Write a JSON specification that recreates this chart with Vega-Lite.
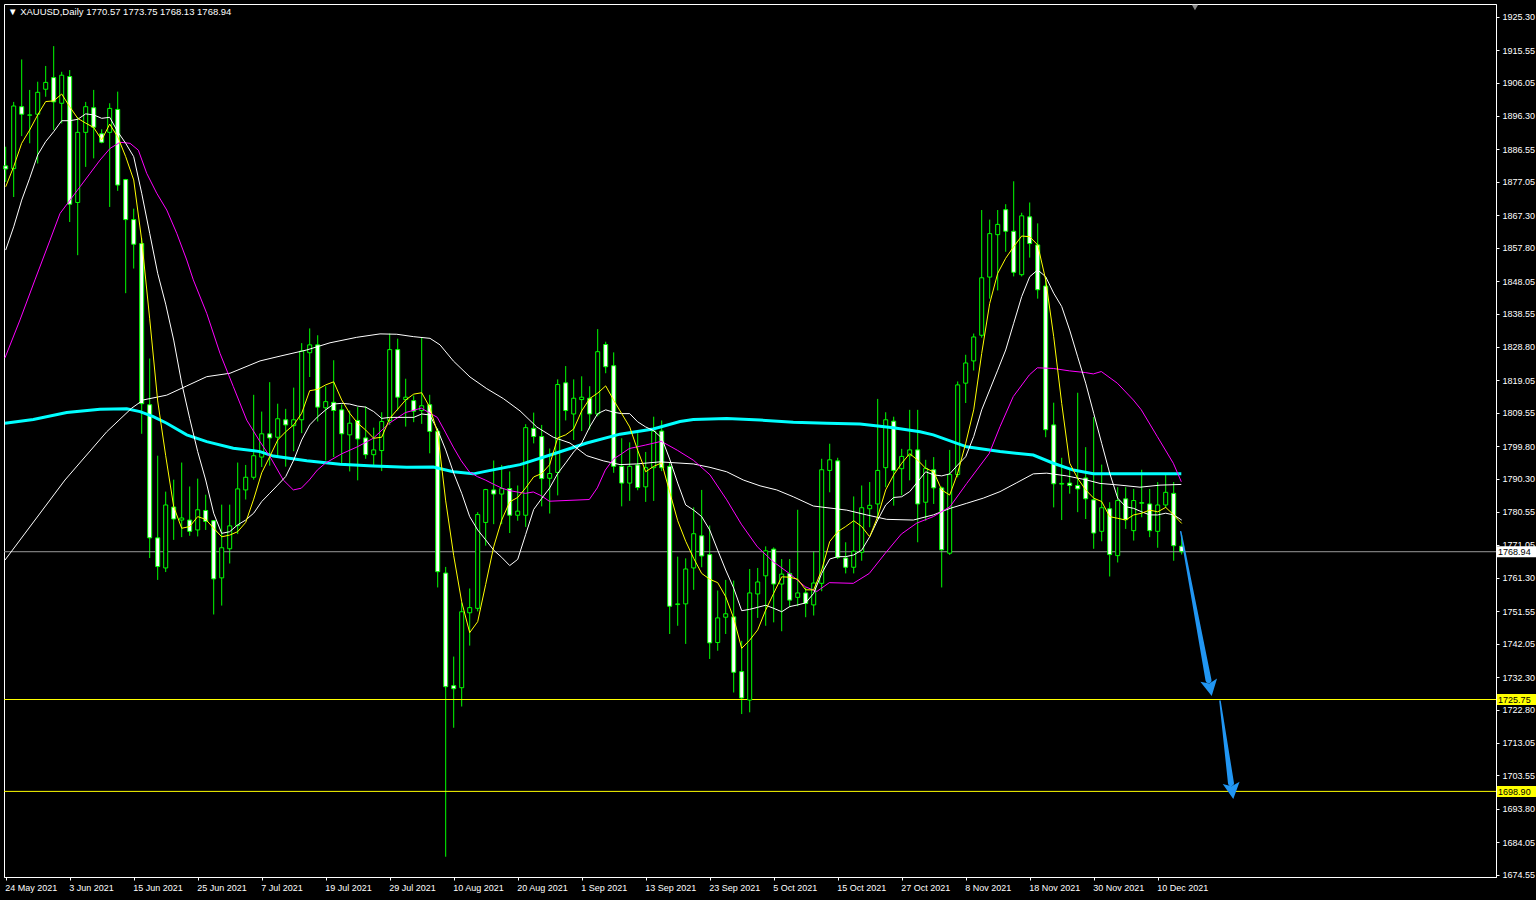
{
"$schema": "https://vega.github.io/schema/vega-lite/v6.json",
"width": 1492,
"height": 873,
"autosize": {"type": "none"},
"padding": {"left": 4, "top": 4, "right": 40, "bottom": 23},
"background": "#000000",
"config": {"view": {"stroke": "#ffffff", "strokeWidth": 1}, "font": "Liberation Sans", "scale": {"continuousPadding": 0}},
"datasets": {
"candles": [
{"i":0,"o":1881.7,"h":1887.3,"l":1877,"c":1880.8},
{"i":1,"o":1880.9,"h":1900.4,"l":1872.6,"c":1899.2},
{"i":2,"o":1899,"h":1912.8,"l":1890.4,"c":1896.8},
{"i":3,"o":1896.5,"h":1903.9,"l":1888.3,"c":1896.6},
{"i":4,"o":1896.8,"h":1906.3,"l":1882.4,"c":1903.2},
{"i":5,"o":1904.1,"h":1910.9,"l":1901.9,"c":1906.1},
{"i":6,"o":1907.5,"h":1916.7,"l":1892.2,"c":1900.4},
{"i":7,"o":1900,"h":1909.2,"l":1894.1,"c":1908.2},
{"i":8,"o":1907.8,"h":1909.7,"l":1865.3,"c":1870.5},
{"i":9,"o":1871,"h":1896,"l":1855.6,"c":1891.5},
{"i":10,"o":1891.5,"h":1900.4,"l":1881.4,"c":1899},
{"i":11,"o":1898.7,"h":1903.9,"l":1883.9,"c":1893},
{"i":12,"o":1891.1,"h":1892.4,"l":1888.3,"c":1888.6},
{"i":13,"o":1891.5,"h":1900,"l":1869.7,"c":1898.5},
{"i":14,"o":1898.2,"h":1903.4,"l":1874.4,"c":1876.1},
{"i":15,"o":1877.7,"h":1877.9,"l":1844.5,"c":1866},
{"i":16,"o":1866,"h":1869.2,"l":1851.7,"c":1858.8},
{"i":17,"o":1859,"h":1860.6,"l":1803.4,"c":1812.2},
{"i":18,"o":1811.9,"h":1825.4,"l":1767.1,"c":1773},
{"i":19,"o":1773,"h":1797,"l":1760.7,"c":1764.6},
{"i":20,"o":1764.2,"h":1786.5,"l":1763,"c":1782.6},
{"i":21,"o":1782,"h":1790,"l":1772.4,"c":1778.5},
{"i":22,"o":1778.2,"h":1795,"l":1773.2,"c":1778.8},
{"i":23,"o":1778.2,"h":1788,"l":1773.6,"c":1774.9},
{"i":24,"o":1775.3,"h":1790.3,"l":1773.4,"c":1781.2},
{"i":25,"o":1781,"h":1785.6,"l":1775.3,"c":1777.8},
{"i":26,"o":1778,"h":1778.2,"l":1750.6,"c":1761},
{"i":27,"o":1761.3,"h":1782.7,"l":1753.2,"c":1770.1},
{"i":28,"o":1769.8,"h":1782.7,"l":1765.5,"c":1776.5},
{"i":29,"o":1776.6,"h":1795,"l":1774.1,"c":1787.3},
{"i":30,"o":1787,"h":1794.3,"l":1784.2,"c":1790.7},
{"i":31,"o":1790.7,"h":1814.8,"l":1790,"c":1797},
{"i":32,"o":1796.6,"h":1809.9,"l":1793.7,"c":1803.4},
{"i":33,"o":1803.4,"h":1818.5,"l":1794.1,"c":1802.2},
{"i":34,"o":1802.4,"h":1812.2,"l":1796.6,"c":1807.8},
{"i":35,"o":1807.5,"h":1810.7,"l":1793.8,"c":1806},
{"i":36,"o":1805.8,"h":1816.9,"l":1798.3,"c":1807.5},
{"i":37,"o":1807.5,"h":1829.9,"l":1803.6,"c":1827.6},
{"i":38,"o":1827.1,"h":1834.2,"l":1820,"c":1829.4},
{"i":39,"o":1829.4,"h":1832.2,"l":1807,"c":1811.2},
{"i":40,"o":1811,"h":1817.3,"l":1795.6,"c":1812.8},
{"i":41,"o":1812.6,"h":1824.9,"l":1796.6,"c":1810.2},
{"i":42,"o":1810.4,"h":1812,"l":1794.6,"c":1803.4},
{"i":43,"o":1803.1,"h":1810.2,"l":1792.4,"c":1806.5},
{"i":44,"o":1807.3,"h":1811.2,"l":1789.8,"c":1801.9},
{"i":45,"o":1802.2,"h":1811.4,"l":1796.1,"c":1797.3},
{"i":46,"o":1797.3,"h":1805.2,"l":1793.7,"c":1798.7},
{"i":47,"o":1798.5,"h":1809.7,"l":1792.5,"c":1807},
{"i":48,"o":1807.3,"h":1832.7,"l":1806,"c":1828},
{"i":49,"o":1828,"h":1831.2,"l":1810.2,"c":1814.1},
{"i":50,"o":1813.4,"h":1819.5,"l":1805.5,"c":1814.1},
{"i":51,"o":1813.1,"h":1814.6,"l":1806.8,"c":1810},
{"i":52,"o":1810.2,"h":1831.5,"l":1806.3,"c":1811.6},
{"i":53,"o":1811.9,"h":1814.8,"l":1797.7,"c":1804.1},
{"i":54,"o":1804.1,"h":1805,"l":1758.5,"c":1763.1},
{"i":55,"o":1762.7,"h":1764.5,"l":1679.8,"c":1729.5},
{"i":56,"o":1729.8,"h":1738.3,"l":1717.5,"c":1728.9},
{"i":57,"o":1729.2,"h":1754,"l":1723.7,"c":1751.4},
{"i":58,"o":1751.1,"h":1758.2,"l":1741.5,"c":1752.6},
{"i":59,"o":1752.4,"h":1780.5,"l":1751.5,"c":1779.8},
{"i":60,"o":1777.5,"h":1787.3,"l":1770.7,"c":1787.1},
{"i":61,"o":1787,"h":1795.6,"l":1777,"c":1785.8},
{"i":62,"o":1785.8,"h":1794.3,"l":1777,"c":1787.4},
{"i":63,"o":1787.4,"h":1792.4,"l":1774.4,"c":1779.6},
{"i":64,"o":1779.6,"h":1788.3,"l":1778,"c":1780.8},
{"i":65,"o":1779.6,"h":1806.2,"l":1776.2,"c":1805.2},
{"i":66,"o":1805,"h":1809.6,"l":1800.6,"c":1802.6},
{"i":67,"o":1802.6,"h":1806,"l":1782.2,"c":1790.3},
{"i":68,"o":1790.4,"h":1799.1,"l":1780.1,"c":1791.8},
{"i":69,"o":1792.1,"h":1819.3,"l":1785.4,"c":1817.8},
{"i":70,"o":1818.3,"h":1823.2,"l":1807.3,"c":1810.2},
{"i":71,"o":1809.2,"h":1819.3,"l":1801.6,"c":1813.8},
{"i":72,"o":1813.4,"h":1820.2,"l":1804.2,"c":1814.1},
{"i":73,"o":1813.8,"h":1817.3,"l":1804.7,"c":1809.2},
{"i":74,"o":1809.2,"h":1834,"l":1808.5,"c":1827.4},
{"i":75,"o":1829.5,"h":1830.3,"l":1821.1,"c":1823},
{"i":76,"o":1823.3,"h":1827.2,"l":1792,"c":1793.9},
{"i":77,"o":1793.9,"h":1802.1,"l":1782.2,"c":1789},
{"i":78,"o":1789,"h":1800.9,"l":1783.8,"c":1793.9},
{"i":79,"o":1794.3,"h":1803.6,"l":1786.9,"c":1787.7},
{"i":80,"o":1787.9,"h":1798.1,"l":1783.5,"c":1793.5},
{"i":81,"o":1793.5,"h":1808.4,"l":1783.8,"c":1804.2},
{"i":82,"o":1804.2,"h":1807.3,"l":1792.5,"c":1793.5},
{"i":83,"o":1793.9,"h":1795,"l":1744.9,"c":1753},
{"i":84,"o":1753.5,"h":1767.5,"l":1747.3,"c":1753.7},
{"i":85,"o":1753.7,"h":1767,"l":1742,"c":1763.9},
{"i":86,"o":1764.2,"h":1781.9,"l":1757.8,"c":1774.2},
{"i":87,"o":1773.6,"h":1787,"l":1764.4,"c":1767.7},
{"i":88,"o":1768.1,"h":1776.6,"l":1737.6,"c":1742.3},
{"i":89,"o":1742.4,"h":1757.6,"l":1740,"c":1749.6},
{"i":90,"o":1749.8,"h":1760.7,"l":1744.9,"c":1750.8},
{"i":91,"o":1749.9,"h":1760.5,"l":1727.8,"c":1733.7},
{"i":92,"o":1733.9,"h":1742.9,"l":1721.5,"c":1726.2},
{"i":93,"o":1725.6,"h":1763.9,"l":1722,"c":1756.9},
{"i":94,"o":1756.6,"h":1764.2,"l":1749.6,"c":1760.1},
{"i":95,"o":1761.9,"h":1770.5,"l":1747.3,"c":1769.2},
{"i":96,"o":1769.7,"h":1770.2,"l":1748.3,"c":1759.5},
{"i":97,"o":1759.5,"h":1766.8,"l":1745.7,"c":1762.4},
{"i":98,"o":1762.6,"h":1766.8,"l":1752.7,"c":1754.8},
{"i":99,"o":1755.6,"h":1781.2,"l":1753,"c":1756.9},
{"i":100,"o":1756.9,"h":1758.5,"l":1749.8,"c":1753.8},
{"i":101,"o":1753.4,"h":1769.1,"l":1750.3,"c":1759.8},
{"i":102,"o":1759.7,"h":1796.1,"l":1757.4,"c":1792.9},
{"i":103,"o":1792.7,"h":1800.5,"l":1786.3,"c":1795.8},
{"i":104,"o":1795.5,"h":1796.4,"l":1766.8,"c":1767.3},
{"i":105,"o":1767.1,"h":1771.7,"l":1762.6,"c":1764.4},
{"i":106,"o":1764.4,"h":1785.1,"l":1762.6,"c":1769.1},
{"i":107,"o":1768.8,"h":1788.3,"l":1766.3,"c":1781.8},
{"i":108,"o":1781.5,"h":1789.3,"l":1776.1,"c":1782.5},
{"i":109,"o":1782.9,"h":1813.6,"l":1778.5,"c":1792.7},
{"i":110,"o":1793.5,"h":1809.7,"l":1787.8,"c":1807.5},
{"i":111,"o":1807.1,"h":1808.4,"l":1782.4,"c":1792.7},
{"i":112,"o":1793.2,"h":1799,"l":1785.4,"c":1796.8},
{"i":113,"o":1797,"h":1810.4,"l":1789.8,"c":1798.7},
{"i":114,"o":1798.7,"h":1810.4,"l":1771.7,"c":1782.9},
{"i":115,"o":1783.4,"h":1795.8,"l":1778,"c":1793.3},
{"i":116,"o":1792.9,"h":1796.6,"l":1782.9,"c":1787.6},
{"i":117,"o":1787.6,"h":1788,"l":1758.5,"c":1769.5},
{"i":118,"o":1768.5,"h":1798.7,"l":1768,"c":1791.5},
{"i":119,"o":1791.5,"h":1818.7,"l":1790.7,"c":1817.7},
{"i":120,"o":1818.2,"h":1826.5,"l":1812.4,"c":1824.1},
{"i":121,"o":1824.7,"h":1832.7,"l":1821.9,"c":1831.7},
{"i":122,"o":1832.2,"h":1868.8,"l":1831.5,"c":1849},
{"i":123,"o":1849.2,"h":1866,"l":1842.9,"c":1861.9},
{"i":124,"o":1861.6,"h":1868.8,"l":1845.3,"c":1864.6},
{"i":125,"o":1868.9,"h":1870.5,"l":1856.6,"c":1862.6},
{"i":126,"o":1862.6,"h":1877.2,"l":1849.4,"c":1850.6},
{"i":127,"o":1849.9,"h":1868,"l":1849.4,"c":1867.1},
{"i":128,"o":1866.8,"h":1871,"l":1854.9,"c":1859},
{"i":129,"o":1858.6,"h":1864.9,"l":1842.9,"c":1845.5},
{"i":130,"o":1846.6,"h":1849.2,"l":1802.4,"c":1804.6},
{"i":131,"o":1806,"h":1812.5,"l":1781.9,"c":1788.8},
{"i":132,"o":1788.7,"h":1796.4,"l":1778.2,"c":1788.9},
{"i":133,"o":1789,"h":1793.2,"l":1785.9,"c":1788.3},
{"i":134,"o":1788.3,"h":1815.4,"l":1780.5,"c":1787.3},
{"i":135,"o":1790.5,"h":1799.5,"l":1778.5,"c":1784.4},
{"i":136,"o":1784.1,"h":1808.3,"l":1769.8,"c":1774.4},
{"i":137,"o":1774.9,"h":1794.4,"l":1772,"c":1781.8},
{"i":138,"o":1781.5,"h":1783.4,"l":1761.7,"c":1768.1},
{"i":139,"o":1767.8,"h":1787.8,"l":1765.8,"c":1783.9},
{"i":140,"o":1784.4,"h":1787.8,"l":1775.6,"c":1778.3},
{"i":141,"o":1775.1,"h":1787.3,"l":1772.2,"c":1783.9},
{"i":142,"o":1783.1,"h":1792.9,"l":1779,"c":1783.3},
{"i":143,"o":1782.9,"h":1787.3,"l":1773.2,"c":1775.1},
{"i":144,"o":1774.9,"h":1789.3,"l":1770.1,"c":1782.6},
{"i":145,"o":1782.6,"h":1791.5,"l":1781.8,"c":1786.3},
{"i":146,"o":1786,"h":1789.3,"l":1766.3,"c":1770.7},
{"i":147,"o":1770.57,"h":1773.75,"l":1768.13,"c":1768.94}
],
"ma": [
{"s":"y","i":0,"p":1875.6},{"s":"y","i":1,"p":1881.5},{"s":"y","i":2,"p":1888.3},{"s":"y","i":3,"p":1892.2},{"s":"y","i":4,"p":1896.6},{"s":"y","i":5,"p":1900.5},{"s":"y","i":6,"p":1900.7},{"s":"y","i":7,"p":1902.7},{"s":"y","i":8,"p":1899.0},{"s":"y","i":9,"p":1895.6},
{"s":"y","i":10,"p":1894.2},{"s":"y","i":11,"p":1892.9},{"s":"y","i":12,"p":1889.3},{"s":"y","i":13,"p":1893.9},{"s":"y","i":14,"p":1890.2},{"s":"y","i":15,"p":1884.4},{"s":"y","i":16,"p":1877.6},{"s":"y","i":17,"p":1860.0},{"s":"y","i":18,"p":1837.0},{"s":"y","i":19,"p":1813.0},
{"s":"y","i":20,"p":1797.0},{"s":"y","i":21,"p":1782.1},{"s":"y","i":22,"p":1775.8},{"s":"y","i":23,"p":1776.3},{"s":"y","i":24,"p":1779.2},{"s":"y","i":25,"p":1778.4},{"s":"y","i":26,"p":1775.8},{"s":"y","i":27,"p":1773.3},{"s":"y","i":28,"p":1773.8},{"s":"y","i":29,"p":1774.8},
{"s":"y","i":30,"p":1777.5},{"s":"y","i":31,"p":1784.3},{"s":"y","i":32,"p":1792.0},{"s":"y","i":33,"p":1796.7},{"s":"y","i":34,"p":1801.6},{"s":"y","i":35,"p":1804.0},{"s":"y","i":36,"p":1806.0},{"s":"y","i":37,"p":1809.4},{"s":"y","i":38,"p":1816.0},{"s":"y","i":39,"p":1816.4},
{"s":"y","i":40,"p":1817.7},{"s":"y","i":41,"p":1818.6},{"s":"y","i":42,"p":1813.3},{"s":"y","i":43,"p":1809.4},{"s":"y","i":44,"p":1806.5},{"s":"y","i":45,"p":1804.5},{"s":"y","i":46,"p":1802.1},{"s":"y","i":47,"p":1802.4},{"s":"y","i":48,"p":1807.9},{"s":"y","i":49,"p":1810.6},
{"s":"y","i":50,"p":1813.3},{"s":"y","i":51,"p":1815.0},{"s":"y","i":52,"p":1815.4},{"s":"y","i":53,"p":1811.2},{"s":"y","i":54,"p":1803.6},{"s":"y","i":55,"p":1783.8},{"s":"y","i":56,"p":1767.8},{"s":"y","i":57,"p":1754.3},{"s":"y","i":58,"p":1745.3},{"s":"y","i":59,"p":1748.5},
{"s":"y","i":60,"p":1759.4},{"s":"y","i":61,"p":1770.4},{"s":"y","i":62,"p":1778.2},{"s":"y","i":63,"p":1783.5},{"s":"y","i":64,"p":1784.8},{"s":"y","i":65,"p":1787.6},{"s":"y","i":66,"p":1790.8},{"s":"y","i":67,"p":1791.8},{"s":"y","i":68,"p":1794.4},{"s":"y","i":69,"p":1802.2},
{"s":"y","i":70,"p":1803.1},{"s":"y","i":71,"p":1804.8},{"s":"y","i":72,"p":1810.1},{"s":"y","i":73,"p":1813.7},{"s":"y","i":74,"p":1815.3},{"s":"y","i":75,"p":1817.4},{"s":"y","i":76,"p":1813.2},{"s":"y","i":77,"p":1809.3},{"s":"y","i":78,"p":1805.4},{"s":"y","i":79,"p":1798.6},
{"s":"y","i":80,"p":1792.3},{"s":"y","i":81,"p":1793.9},{"s":"y","i":82,"p":1794.9},{"s":"y","i":83,"p":1786.4},{"s":"y","i":84,"p":1778.0},{"s":"y","i":85,"p":1772.0},{"s":"y","i":86,"p":1767.0},{"s":"y","i":87,"p":1762.6},{"s":"y","i":88,"p":1760.9},{"s":"y","i":89,"p":1759.9},
{"s":"y","i":90,"p":1755.8},{"s":"y","i":91,"p":1749.5},{"s":"y","i":92,"p":1740.7},{"s":"y","i":93,"p":1743.1},{"s":"y","i":94,"p":1746.1},{"s":"y","i":95,"p":1751.9},{"s":"y","i":96,"p":1756.8},{"s":"y","i":97,"p":1761.6},{"s":"y","i":98,"p":1761.5},{"s":"y","i":99,"p":1760.9},
{"s":"y","i":100,"p":1757.8},{"s":"y","i":101,"p":1757.8},{"s":"y","i":102,"p":1763.6},{"s":"y","i":103,"p":1771.9},{"s":"y","i":104,"p":1774.8},{"s":"y","i":105,"p":1776.3},{"s":"y","i":106,"p":1778.0},{"s":"y","i":107,"p":1776.3},{"s":"y","i":108,"p":1773.3},{"s":"y","i":109,"p":1779.2},
{"s":"y","i":110,"p":1787.0},{"s":"y","i":111,"p":1791.4},{"s":"y","i":112,"p":1794.8},{"s":"y","i":113,"p":1797.6},{"s":"y","i":114,"p":1795.7},{"s":"y","i":115,"p":1793.3},{"s":"y","i":116,"p":1792.3},{"s":"y","i":117,"p":1787.0},{"s":"y","i":118,"p":1785.5},{"s":"y","i":119,"p":1791.9},
{"s":"y","i":120,"p":1800.6},{"s":"y","i":121,"p":1810.4},{"s":"y","i":122,"p":1826.9},{"s":"y","i":123,"p":1841.5},{"s":"y","i":124,"p":1850.3},{"s":"y","i":125,"p":1854.7},{"s":"y","i":126,"p":1858.1},{"s":"y","i":127,"p":1861.2},{"s":"y","i":128,"p":1861.0},{"s":"y","i":129,"p":1858.6},
{"s":"y","i":130,"p":1848.4},{"s":"y","i":131,"p":1831.8},{"s":"y","i":132,"p":1812.3},{"s":"y","i":133,"p":1794.8},{"s":"y","i":134,"p":1790.4},{"s":"y","i":135,"p":1787.0},{"s":"y","i":136,"p":1784.6},{"s":"y","i":137,"p":1783.6},{"s":"y","i":138,"p":1779.2},{"s":"y","i":139,"p":1778.7},
{"s":"y","i":140,"p":1778.2},{"s":"y","i":141,"p":1779.7},{"s":"y","i":142,"p":1780.2},{"s":"y","i":143,"p":1781.1},{"s":"y","i":144,"p":1780.6},{"s":"y","i":145,"p":1781.9},{"s":"y","i":146,"p":1779.7},{"s":"y","i":147,"p":1777.2},
{"s":"w","i":0,"p":1857.1},{"s":"w","i":1,"p":1863.9},{"s":"w","i":2,"p":1871.7},{"s":"w","i":3,"p":1878.1},{"s":"w","i":4,"p":1884.9},{"s":"w","i":5,"p":1888.8},{"s":"w","i":6,"p":1891.7},{"s":"w","i":7,"p":1894.9},{"s":"w","i":8,"p":1894.9},{"s":"w","i":9,"p":1895.3},
{"s":"w","i":10,"p":1896.9},{"s":"w","i":11,"p":1896.6},{"s":"w","i":12,"p":1895.6},{"s":"w","i":13,"p":1895.9},{"s":"w","i":14,"p":1891.7},{"s":"w","i":15,"p":1888.3},{"s":"w","i":16,"p":1884.4},{"s":"w","i":17,"p":1873.7},{"s":"w","i":18,"p":1862.0},{"s":"w","i":19,"p":1850.3},
{"s":"w","i":20,"p":1841.3},{"s":"w","i":21,"p":1830.8},{"s":"w","i":22,"p":1818.2},{"s":"w","i":23,"p":1807.9},{"s":"w","i":24,"p":1798.2},{"s":"w","i":25,"p":1789.9},{"s":"w","i":26,"p":1780.2},{"s":"w","i":27,"p":1774.3},{"s":"w","i":28,"p":1774.8},{"s":"w","i":29,"p":1776.8},
{"s":"w","i":30,"p":1778.2},{"s":"w","i":31,"p":1780.2},{"s":"w","i":32,"p":1783.6},{"s":"w","i":33,"p":1786.0},{"s":"w","i":34,"p":1788.4},{"s":"w","i":35,"p":1790.9},{"s":"w","i":36,"p":1795.7},{"s":"w","i":37,"p":1801.6},{"s":"w","i":38,"p":1806.0},{"s":"w","i":39,"p":1808.4},
{"s":"w","i":40,"p":1810.4},{"s":"w","i":41,"p":1812.1},{"s":"w","i":42,"p":1812.3},{"s":"w","i":43,"p":1812.1},{"s":"w","i":44,"p":1811.5},{"s":"w","i":45,"p":1811.2},{"s":"w","i":46,"p":1809.9},{"s":"w","i":47,"p":1807.9},{"s":"w","i":48,"p":1808.2},{"s":"w","i":49,"p":1808.2},
{"s":"w","i":50,"p":1808.2},{"s":"w","i":51,"p":1808.2},{"s":"w","i":52,"p":1809.2},{"s":"w","i":53,"p":1808.9},{"s":"w","i":54,"p":1804.5},{"s":"w","i":55,"p":1798.7},{"s":"w","i":56,"p":1791.9},{"s":"w","i":57,"p":1786.0},{"s":"w","i":58,"p":1779.2},{"s":"w","i":59,"p":1775.3},
{"s":"w","i":60,"p":1772.4},{"s":"w","i":61,"p":1769.4},{"s":"w","i":62,"p":1767.3},{"s":"w","i":63,"p":1764.9},{"s":"w","i":64,"p":1766.7},{"s":"w","i":65,"p":1774.0},{"s":"w","i":66,"p":1781.3},{"s":"w","i":67,"p":1784.5},{"s":"w","i":68,"p":1787.6},{"s":"w","i":69,"p":1791.8},
{"s":"w","i":70,"p":1794.9},{"s":"w","i":71,"p":1798.1},{"s":"w","i":72,"p":1800.7},{"s":"w","i":73,"p":1805.4},{"s":"w","i":74,"p":1809.3},{"s":"w","i":75,"p":1810.4},{"s":"w","i":76,"p":1809.7},{"s":"w","i":77,"p":1809.3},{"s":"w","i":78,"p":1809.3},{"s":"w","i":79,"p":1806.9},
{"s":"w","i":80,"p":1805.4},{"s":"w","i":81,"p":1804.3},{"s":"w","i":82,"p":1802.2},{"s":"w","i":83,"p":1796.0},{"s":"w","i":84,"p":1789.0},{"s":"w","i":85,"p":1782.6},{"s":"w","i":86,"p":1781.1},{"s":"w","i":87,"p":1779.2},{"s":"w","i":88,"p":1775.3},{"s":"w","i":89,"p":1769.4},
{"s":"w","i":90,"p":1763.6},{"s":"w","i":91,"p":1758.3},{"s":"w","i":92,"p":1751.7},{"s":"w","i":93,"p":1752.1},{"s":"w","i":94,"p":1752.7},{"s":"w","i":95,"p":1753.3},{"s":"w","i":96,"p":1752.4},{"s":"w","i":97,"p":1751.4},{"s":"w","i":98,"p":1752.9},{"s":"w","i":99,"p":1753.4},
{"s":"w","i":100,"p":1754.0},{"s":"w","i":101,"p":1756.8},{"s":"w","i":102,"p":1762.6},{"s":"w","i":103,"p":1766.8},{"s":"w","i":104,"p":1767.5},{"s":"w","i":105,"p":1767.5},{"s":"w","i":106,"p":1768.0},{"s":"w","i":107,"p":1769.4},{"s":"w","i":108,"p":1773.3},{"s":"w","i":109,"p":1778.2},
{"s":"w","i":110,"p":1782.6},{"s":"w","i":111,"p":1784.8},{"s":"w","i":112,"p":1785.0},{"s":"w","i":113,"p":1786.5},{"s":"w","i":114,"p":1789.4},{"s":"w","i":115,"p":1792.3},{"s":"w","i":116,"p":1791.4},{"s":"w","i":117,"p":1791.1},{"s":"w","i":118,"p":1791.7},{"s":"w","i":119,"p":1794.3},
{"s":"w","i":120,"p":1796.7},{"s":"w","i":121,"p":1802.6},{"s":"w","i":122,"p":1810.4},{"s":"w","i":123,"p":1816.2},{"s":"w","i":124,"p":1822.0},{"s":"w","i":125,"p":1827.9},{"s":"w","i":126,"p":1835.7},{"s":"w","i":127,"p":1843.5},{"s":"w","i":128,"p":1849.3},{"s":"w","i":129,"p":1851.3},
{"s":"w","i":130,"p":1849.3},{"s":"w","i":131,"p":1844.5},{"s":"w","i":132,"p":1840.6},{"s":"w","i":133,"p":1833.7},{"s":"w","i":134,"p":1825.9},{"s":"w","i":135,"p":1818.2},{"s":"w","i":136,"p":1809.4},{"s":"w","i":137,"p":1800.6},{"s":"w","i":138,"p":1791.9},{"s":"w","i":139,"p":1784.6},
{"s":"w","i":140,"p":1782.1},{"s":"w","i":141,"p":1781.6},{"s":"w","i":142,"p":1780.6},{"s":"w","i":143,"p":1779.7},{"s":"w","i":144,"p":1779.7},{"s":"w","i":145,"p":1780.2},{"s":"w","i":146,"p":1779.7},{"s":"w","i":147,"p":1778.2},
{"s":"m","i":-0.09,"p":1825.6},{"s":"m","i":1.79,"p":1836.7},{"s":"m","i":3.66,"p":1848.4},{"s":"m","i":5.54,"p":1860.0},{"s":"m","i":6.79,"p":1867.8},{"s":"m","i":8.04,"p":1871.7},{"s":"m","i":9.29,"p":1875.6},{"s":"m","i":10.54,"p":1879.5},{"s":"m","i":11.79,"p":1883.4},{"s":"m","i":13.04,"p":1886.8},
{"s":"m","i":14.29,"p":1888.6},{"s":"m","i":15.54,"p":1888.3},{"s":"m","i":16.58,"p":1886.3},{"s":"m","i":17.63,"p":1879.5},{"s":"m","i":18.88,"p":1873.7},{"s":"m","i":20.13,"p":1868.8},{"s":"m","i":21.38,"p":1862.0},{"s":"m","i":22.63,"p":1854.2},{"s":"m","i":23.45,"p":1848.4},{"s":"m","i":25.13,"p":1838.6},
{"s":"m","i":26.79,"p":1826.9},{"s":"m","i":28.45,"p":1817.2},{"s":"m","i":30.13,"p":1807.4},{"s":"m","i":31.79,"p":1801.1},{"s":"m","i":33.04,"p":1796.7},{"s":"m","i":34.7,"p":1789.9},{"s":"m","i":35.95,"p":1787.0},{"s":"m","i":36.95,"p":1787.5},{"s":"m","i":37.95,"p":1789.9},{"s":"m","i":38.95,"p":1792.8},
{"s":"m","i":39.95,"p":1794.8},{"s":"m","i":41.95,"p":1797.5},{"s":"m","i":43.95,"p":1799.6},{"s":"m","i":45.95,"p":1802.1},{"s":"m","i":47.95,"p":1806.5},{"s":"m","i":49.95,"p":1809.6},{"s":"m","i":51.95,"p":1810.9},{"s":"m","i":53.95,"p":1808.2},{"s":"m","i":54.95,"p":1803.9},{"s":"m","i":55.95,"p":1799.5},
{"s":"m","i":56.95,"p":1795.5},{"s":"m","i":57.95,"p":1792.3},{"s":"m","i":58.95,"p":1790.9},{"s":"m","i":59.95,"p":1789.9},{"s":"m","i":60.95,"p":1788.7},{"s":"m","i":61.95,"p":1787.6},{"s":"m","i":62.95,"p":1786.8},{"s":"m","i":64.95,"p":1786.0},{"s":"m","i":65.95,"p":1786.4},{"s":"m","i":66.95,"p":1785.3},
{"s":"m","i":67.95,"p":1783.7},{"s":"m","i":72.95,"p":1784.2},{"s":"m","i":73.95,"p":1787.6},{"s":"m","i":74.95,"p":1792.8},{"s":"m","i":75.95,"p":1796.0},{"s":"m","i":76.95,"p":1797.5},{"s":"m","i":77.95,"p":1799.1},{"s":"m","i":79.95,"p":1800.1},{"s":"m","i":81.95,"p":1801.2},{"s":"m","i":83.95,"p":1798.6},
{"s":"m","i":85.95,"p":1795.7},{"s":"m","i":88.04,"p":1791.4},{"s":"m","i":90.13,"p":1784.1},{"s":"m","i":91.95,"p":1777.0},{"s":"m","i":93.95,"p":1770.4},{"s":"m","i":95.95,"p":1766.0},{"s":"m","i":97.95,"p":1762.6},{"s":"m","i":99.95,"p":1758.7},{"s":"m","i":101.38,"p":1757.3},{"s":"m","i":102.95,"p":1759.9},
{"s":"m","i":105.95,"p":1759.7},{"s":"m","i":107.95,"p":1762.6},{"s":"m","i":109.95,"p":1768.5},{"s":"m","i":111.95,"p":1774.1},{"s":"m","i":113.88,"p":1777.3},{"s":"m","i":115.95,"p":1779.2},{"s":"m","i":118.04,"p":1782.1},{"s":"m","i":120.13,"p":1788.9},{"s":"m","i":122.95,"p":1797.7},{"s":"m","i":124.29,"p":1805.5},
{"s":"m","i":125.95,"p":1814.3},{"s":"m","i":127.95,"p":1820.6},{"s":"m","i":128.95,"p":1822.7},{"s":"m","i":130.95,"p":1822.5},{"s":"m","i":132.95,"p":1821.8},{"s":"m","i":134.95,"p":1821.3},{"s":"m","i":135.95,"p":1820.9},{"s":"m","i":136.95,"p":1821.6},{"s":"m","i":138.95,"p":1818.2},{"s":"m","i":140.95,"p":1813.3},
{"s":"m","i":141.95,"p":1810.4},{"s":"m","i":143.95,"p":1802.6},{"s":"m","i":145.95,"p":1794.8},{"s":"m","i":146.95,"p":1789.4},
{"s":"s","i":-0.09,"p":1766.5},{"s":"s","i":7.41,"p":1789.9},{"s":"s","i":12.63,"p":1804.0},{"s":"s","i":15.75,"p":1810.9},{"s":"s","i":17.2,"p":1813.3},{"s":"s","i":20.13,"p":1814.7},{"s":"s","i":22.63,"p":1817.4},{"s":"s","i":25.13,"p":1820.1},{"s":"s","i":28.04,"p":1821.1},{"s":"s","i":31.79,"p":1824.7},
{"s":"s","i":34.29,"p":1826.1},{"s":"s","i":37.63,"p":1827.9},{"s":"s","i":40.54,"p":1830.0},{"s":"s","i":43.88,"p":1831.6},{"s":"s","i":46.79,"p":1832.6},{"s":"s","i":48.88,"p":1832.5},{"s":"s","i":50.95,"p":1831.8},{"s":"s","i":53.04,"p":1831.3},{"s":"s","i":54.29,"p":1829.4},{"s":"s","i":55.95,"p":1824.7},
{"s":"s","i":58.04,"p":1820.0},{"s":"s","i":60.13,"p":1816.6},{"s":"s","i":62.2,"p":1813.7},{"s":"s","i":64.29,"p":1810.1},{"s":"s","i":66.38,"p":1805.4},{"s":"s","i":68.45,"p":1802.4},{"s":"s","i":70.54,"p":1800.7},{"s":"s","i":72.63,"p":1797.0},{"s":"s","i":74.7,"p":1795.5},{"s":"s","i":76.79,"p":1794.4},
{"s":"s","i":78.88,"p":1794.6},{"s":"s","i":81.79,"p":1795.2},{"s":"s","i":85.95,"p":1794.6},{"s":"s","i":88.04,"p":1793.6},{"s":"s","i":90.13,"p":1792.3},{"s":"s","i":92.2,"p":1789.9},{"s":"s","i":94.29,"p":1788.2},{"s":"s","i":96.38,"p":1787.0},{"s":"s","i":98.45,"p":1785.0},{"s":"s","i":100.95,"p":1782.3},
{"s":"s","i":105.13,"p":1781.1},{"s":"s","i":107.63,"p":1779.7},{"s":"s","i":110.13,"p":1778.4},{"s":"s","i":113.45,"p":1778.2},{"s":"s","i":115.95,"p":1779.7},{"s":"s","i":118.04,"p":1781.6},{"s":"s","i":120.13,"p":1783.1},{"s":"s","i":122.2,"p":1784.6},{"s":"s","i":124.29,"p":1786.5},{"s":"s","i":126.38,"p":1789.1},
{"s":"s","i":128.45,"p":1791.7},{"s":"s","i":130.13,"p":1791.9},{"s":"s","i":132.63,"p":1791.1},{"s":"s","i":135.13,"p":1789.9},{"s":"s","i":136.79,"p":1788.9},{"s":"s","i":139.29,"p":1788.4},{"s":"s","i":141.79,"p":1787.8},{"s":"s","i":144.29,"p":1788.4},{"s":"s","i":146.95,"p":1788.6},
{"s":"c","i":-0.09,"p":1806.5},{"s":"c","i":3.45,"p":1807.6},{"s":"c","i":7.63,"p":1809.6},{"s":"c","i":11.79,"p":1810.6},{"s":"c","i":15.13,"p":1810.7},{"s":"c","i":16.79,"p":1809.9},{"s":"c","i":18.45,"p":1808.4},{"s":"c","i":20.13,"p":1806.5},{"s":"c","i":22.63,"p":1803.1},{"s":"c","i":25.13,"p":1801.1},
{"s":"c","i":28.45,"p":1799.2},{"s":"c","i":31.79,"p":1798.2},{"s":"c","i":33.45,"p":1796.9},{"s":"c","i":37.63,"p":1795.5},{"s":"c","i":41.79,"p":1794.5},{"s":"c","i":45.95,"p":1794.0},{"s":"c","i":50.13,"p":1793.6},{"s":"c","i":53.45,"p":1793.7},{"s":"c","i":55.95,"p":1792.3},{"s":"c","i":58.45,"p":1791.7},
{"s":"c","i":60.13,"p":1792.5},{"s":"c","i":64.29,"p":1794.4},{"s":"c","i":68.45,"p":1797.5},{"s":"c","i":72.63,"p":1800.7},{"s":"c","i":76.79,"p":1803.3},{"s":"c","i":80.95,"p":1804.8},{"s":"c","i":84.29,"p":1807.0},{"s":"c","i":85.95,"p":1807.6},{"s":"c","i":90.13,"p":1807.9},{"s":"c","i":94.29,"p":1807.4},
{"s":"c","i":98.45,"p":1806.8},{"s":"c","i":102.63,"p":1806.5},{"s":"c","i":106.79,"p":1806.3},{"s":"c","i":110.95,"p":1805.2},{"s":"c","i":114.29,"p":1804.0},{"s":"c","i":115.95,"p":1803.1},{"s":"c","i":120.13,"p":1799.6},{"s":"c","i":124.29,"p":1798.2},{"s":"c","i":128.45,"p":1797.2},{"s":"c","i":130.95,"p":1794.8},
{"s":"c","i":133.45,"p":1792.8},{"s":"c","i":135.95,"p":1791.7},{"s":"c","i":139.29,"p":1791.7},{"s":"c","i":146.95,"p":1791.7}
],
"levels": [{"k":"bid","p":1768.94},{"k":"line","p":1725.75},{"k":"line","p":1698.9}],
"shafts": [
{"a":"1","pt":"tail","i":146.88,"p":1774.8},{"a":"1","pt":"head","i":150.35,"p":1731.4},
{"a":"2","pt":"tail","i":151.79,"p":1725.3},{"a":"2","pt":"head","i":153.16,"p":1701.3}
],
"tips": [{"a":"1","i":150.75,"p":1726.8},{"a":"2","i":153.45,"p":1696.7}]
},
"layer": [
{
"data": {"name": "candles"},
"mark": {"type": "rule", "color": "#00ff00", "strokeWidth": 1},
"encoding": {
"x": {"field": "i", "type": "quantitative", "title": null, "scale": {"domain": [-0.2125, 186.2875], "nice": false, "zero": false, "padding": 0},
 "axis": {"title": null, "orient": "bottom", "values": [0,8,16,24,32,40,48,56,64,72,80,88,96,104,112,120,128,136,144], "tickCount": 40,
 "labelExpr": "['24 May 2021','3 Jun 2021','15 Jun 2021','25 Jun 2021','7 Jul 2021','19 Jul 2021','29 Jul 2021','10 Aug 2021','20 Aug 2021','1 Sep 2021','13 Sep 2021','23 Sep 2021','5 Oct 2021','15 Oct 2021','27 Oct 2021','8 Nov 2021','18 Nov 2021','30 Nov 2021','10 Dec 2021'][round(datum.value/8)]",
 "domain": true, "domainColor": "#ffffff", "ticks": true, "tickColor": "#ffffff", "tickSize": 3,
 "labelColor": "#ffffff", "labelFont": "Liberation Sans", "labelFontSize": 9, "labelAlign": "left", "labelBaseline": "top", "labelPadding": 3, "labelOffset": -1,
 "labelOverlap": false, "labelFlush": false, "grid": false, "zindex": 0}},
"y": {"field": "l", "type": "quantitative", "title": null, "scale": {"domain": [1673.88, 1929.01], "nice": false, "zero": false, "padding": 0},
 "axis": {"title": null, "orient": "right", "values": [1925.30,1915.55,1906.05,1896.30,1886.55,1877.05,1867.30,1857.80,1848.05,1838.55,1828.80,1819.05,1809.55,1799.80,1790.30,1780.55,1771.05,1761.30,1751.55,1742.05,1732.30,1722.80,1713.05,1703.55,1693.80,1684.05,1674.55], "tickCount": 40,
 "format": ".2f", "domain": true, "domainColor": "#ffffff", "ticks": true, "tickColor": "#ffffff", "tickSize": 3,
 "labelColor": "#ffffff", "labelFont": "Liberation Sans", "labelFontSize": 9, "labelPadding": 3, "labelAlign": "left", "labelBaseline": "middle",
 "labelOverlap": false, "labelFlush": false, "grid": false, "zindex": 0}},
"y2": {"field": "h"}
}
},
{
"data": {"name": "levels"},
"mark": {"type": "rule", "strokeWidth": 1},
"encoding": {
"y": {"field": "p", "type": "quantitative", "title": null, "scale": {"domain": [1673.88, 1929.01], "nice": false, "zero": false, "padding": 0}},
"color": {"condition": {"test": "datum.k === 'bid'", "value": "#9a9a9a"}, "value": "#ffff00"}
}
},
{
"data": {"name": "candles"},
"mark": {"type": "bar", "width": 4, "stroke": "#00ff00", "strokeWidth": 1},
"encoding": {
"x": {"field": "i", "type": "quantitative", "title": null, "scale": {"domain": [-0.2125, 186.2875], "nice": false, "zero": false, "padding": 0}},
"y": {"field": "o", "type": "quantitative", "title": null, "scale": {"domain": [1673.88, 1929.01], "nice": false, "zero": false, "padding": 0}},
"y2": {"field": "c"},
"fill": {"condition": {"test": "datum.c < datum.o", "value": "#ffffff"}, "value": "#000000"}
}
},
{
"data": {"name": "ma"},
"transform": [{"filter": "datum.s === 'c'"}],
"mark": {"type": "line", "color": "#00ffff", "strokeWidth": 3},
"encoding": {
"x": {"field": "i", "type": "quantitative", "title": null, "scale": {"domain": [-0.2125, 186.2875], "nice": false, "zero": false, "padding": 0}},
"y": {"field": "p", "type": "quantitative", "title": null, "scale": {"domain": [1673.88, 1929.01], "nice": false, "zero": false, "padding": 0}}
}
},
{
"data": {"name": "ma"},
"transform": [{"filter": "datum.s === 's'"}],
"mark": {"type": "line", "color": "#ffffff", "strokeWidth": 1},
"encoding": {
"x": {"field": "i", "type": "quantitative", "title": null, "scale": {"domain": [-0.2125, 186.2875], "nice": false, "zero": false, "padding": 0}},
"y": {"field": "p", "type": "quantitative", "title": null, "scale": {"domain": [1673.88, 1929.01], "nice": false, "zero": false, "padding": 0}}
}
},
{
"data": {"name": "ma"},
"transform": [{"filter": "datum.s === 'm'"}],
"mark": {"type": "line", "color": "#ff00ff", "strokeWidth": 1},
"encoding": {
"x": {"field": "i", "type": "quantitative", "title": null, "scale": {"domain": [-0.2125, 186.2875], "nice": false, "zero": false, "padding": 0}},
"y": {"field": "p", "type": "quantitative", "title": null, "scale": {"domain": [1673.88, 1929.01], "nice": false, "zero": false, "padding": 0}}
}
},
{
"data": {"name": "ma"},
"transform": [{"filter": "datum.s === 'w'"}],
"mark": {"type": "line", "color": "#ffffff", "strokeWidth": 1},
"encoding": {
"x": {"field": "i", "type": "quantitative", "title": null, "scale": {"domain": [-0.2125, 186.2875], "nice": false, "zero": false, "padding": 0}},
"y": {"field": "p", "type": "quantitative", "title": null, "scale": {"domain": [1673.88, 1929.01], "nice": false, "zero": false, "padding": 0}}
}
},
{
"data": {"name": "ma"},
"transform": [{"filter": "datum.s === 'y'"}],
"mark": {"type": "line", "color": "#ffff00", "strokeWidth": 1},
"encoding": {
"x": {"field": "i", "type": "quantitative", "title": null, "scale": {"domain": [-0.2125, 186.2875], "nice": false, "zero": false, "padding": 0}},
"y": {"field": "p", "type": "quantitative", "title": null, "scale": {"domain": [1673.88, 1929.01], "nice": false, "zero": false, "padding": 0}}
}
},
{
"data": {"name": "shafts"},
"mark": {"type": "trail", "color": "#2196f3"},
"encoding": {
"x": {"field": "i", "type": "quantitative", "title": null, "scale": {"domain": [-0.2125, 186.2875], "nice": false, "zero": false, "padding": 0}},
"y": {"field": "p", "type": "quantitative", "title": null, "scale": {"domain": [1673.88, 1929.01], "nice": false, "zero": false, "padding": 0}},
"detail": {"field": "a", "type": "nominal"},
"size": {"field": "pt", "type": "ordinal", "scale": {"domain": ["tail", "head"], "range": [1.5, 6]}, "legend": null}
}
},
{
"data": {"name": "tips"},
"transform": [{"filter": "datum.a === '1'"}],
"mark": {"type": "point", "shape": "M0,0 L-1,-1.9 L0,-1.5 L1,-1.9 Z", "size": 289, "filled": true, "opacity": 1, "color": "#2196f3", "angle": 349.3},
"encoding": {
"x": {"field": "i", "type": "quantitative", "title": null, "scale": {"domain": [-0.2125, 186.2875], "nice": false, "zero": false, "padding": 0}},
"y": {"field": "p", "type": "quantitative", "title": null, "scale": {"domain": [1673.88, 1929.01], "nice": false, "zero": false, "padding": 0}}
}
},
{
"data": {"name": "tips"},
"transform": [{"filter": "datum.a === '2'"}],
"mark": {"type": "point", "shape": "M0,0 L-1,-1.9 L0,-1.5 L1,-1.9 Z", "size": 289, "filled": true, "opacity": 1, "color": "#2196f3", "angle": 352.3},
"encoding": {
"x": {"field": "i", "type": "quantitative", "title": null, "scale": {"domain": [-0.2125, 186.2875], "nice": false, "zero": false, "padding": 0}},
"y": {"field": "p", "type": "quantitative", "title": null, "scale": {"domain": [1673.88, 1929.01], "nice": false, "zero": false, "padding": 0}}
}
},
{
"data": {"name": "levels"},
"mark": {"type": "rule", "strokeWidth": 11, "strokeCap": "butt"},
"encoding": {
"x": {"datum": 186.4, "type": "quantitative", "title": null, "scale": {"domain": [-0.2125, 186.2875], "nice": false, "zero": false, "padding": 0}},
"x2": {"datum": 191.6},
"y": {"field": "p", "type": "quantitative", "title": null, "scale": {"domain": [1673.88, 1929.01], "nice": false, "zero": false, "padding": 0}},
"color": {"condition": {"test": "datum.k === 'bid'", "value": "#ffffff"}, "value": "#ffff00"}
}
},
{
"data": {"name": "levels"},
"mark": {"type": "text", "align": "left", "baseline": "middle", "font": "Liberation Sans", "fontSize": 9, "color": "#000000", "dy": 0.5},
"encoding": {
"x": {"datum": 186.55, "type": "quantitative", "title": null, "scale": {"domain": [-0.2125, 186.2875], "nice": false, "zero": false, "padding": 0}},
"y": {"field": "p", "type": "quantitative", "title": null, "scale": {"domain": [1673.88, 1929.01], "nice": false, "zero": false, "padding": 0}},
"text": {"field": "p", "type": "quantitative", "format": ".2f"}
}
},
{
"data": {"values": [{"t": "▼ XAUUSD,Daily  1770.57 1773.75 1768.13 1768.94", "i": 0.3, "p": 1926.6}]},
"mark": {"type": "text", "align": "left", "baseline": "middle", "font": "Liberation Sans", "fontSize": 9.5, "color": "#ffffff"},
"encoding": {
"x": {"field": "i", "type": "quantitative", "title": null, "scale": {"domain": [-0.2125, 186.2875], "nice": false, "zero": false, "padding": 0}},
"y": {"field": "p", "type": "quantitative", "title": null, "scale": {"domain": [1673.88, 1929.01], "nice": false, "zero": false, "padding": 0}},
"text": {"field": "t", "type": "nominal"}
}
},
{
"data": {"values": [{"i": 148.66, "p": 1928.0}]},
"mark": {"type": "point", "shape": "triangle-down", "size": 40, "filled": true, "opacity": 1, "color": "#8a8a8a"},
"encoding": {
"x": {"field": "i", "type": "quantitative", "title": null, "scale": {"domain": [-0.2125, 186.2875], "nice": false, "zero": false, "padding": 0}},
"y": {"field": "p", "type": "quantitative", "title": null, "scale": {"domain": [1673.88, 1929.01], "nice": false, "zero": false, "padding": 0}}
}
}
]
}
